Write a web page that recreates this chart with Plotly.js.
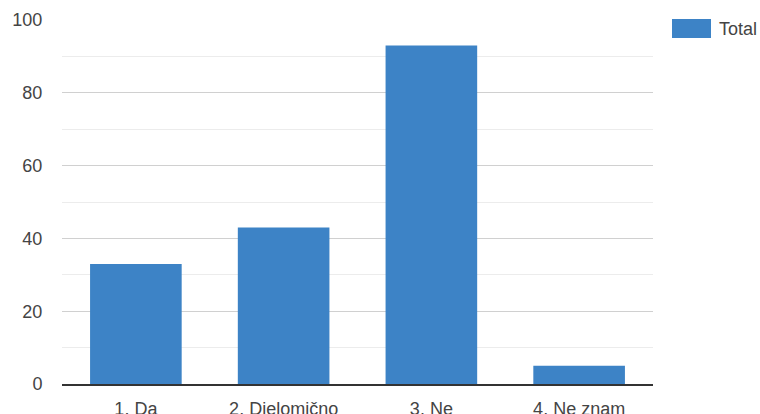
<!DOCTYPE html>
<html>
<head>
<meta charset="utf-8">
<script src="https://cdn.plot.ly/plotly-3.0.1.min.js"></script>
<style>html,body{margin:0;padding:0;background:#fff;}#chart{width:760px;height:414px;}</style>
</head>
<body>
<div id="chart"></div>
<script>
const categories = ["1. Da", "2. Djelomično", "3. Ne", "4. Ne znam"];
const totalValues = [33, 43, 93, 5];
const seriesName = "Total";
const yTicks = [0, 20, 40, 60, 80, 100];

const barColor = "#3d83c6";
const font = {family: "Liberation Sans, Arial, sans-serif", size: 18, color: "#444"};

const trace = {
  type: "bar",
  x: categories,
  y: totalValues,
  name: seriesName,
  marker: {color: barColor},
  hoverinfo: "none"
};

const layout = {
  width: 760, height: 414,
  margin: {l: 62, r: 107, t: 20, b: 30, pad: 0},
  paper_bgcolor: "#fff", plot_bgcolor: "#fff",
  font: font,
  showlegend: false,
  bargap: 0.38,
  xaxis: {
    showgrid: false, zeroline: false,
    showline: true, linecolor: "#333", linewidth: 2,
    ticks: "outside", ticklen: 7, tickcolor: "rgba(0,0,0,0)",
    tickfont: font
  },
  yaxis: {
    range: [0, 100], tickvals: yTicks, ticktext: yTicks.map(String),
    showgrid: true, gridcolor: "#d0d0d0", gridwidth: 1,
    minor: {dtick: 10, tick0: 0, showgrid: true, gridcolor: "#ececec", gridwidth: 1},
    zeroline: false, showline: false,
    ticks: "outside", ticklen: 15, tickcolor: "rgba(0,0,0,0)",
    tickfont: font, fixedrange: true
  },
  shapes: [{
    type: "rect", xref: "paper", yref: "paper",
    x0: 610/591, x1: 649/591, y0: 1 + 1/364, y1: 1 - 18/364,
    fillcolor: barColor, line: {width: 0}
  }],
  annotations: [{
    xref: "paper", yref: "paper", x: 655/591, y: 1 - 9/364,
    xanchor: "left", yanchor: "middle", showarrow: false,
    text: seriesName, font: font
  }]
};

Plotly.newPlot("chart", [trace], layout, {displayModeBar: false, staticPlot: true});
</script>
</body>
</html>
